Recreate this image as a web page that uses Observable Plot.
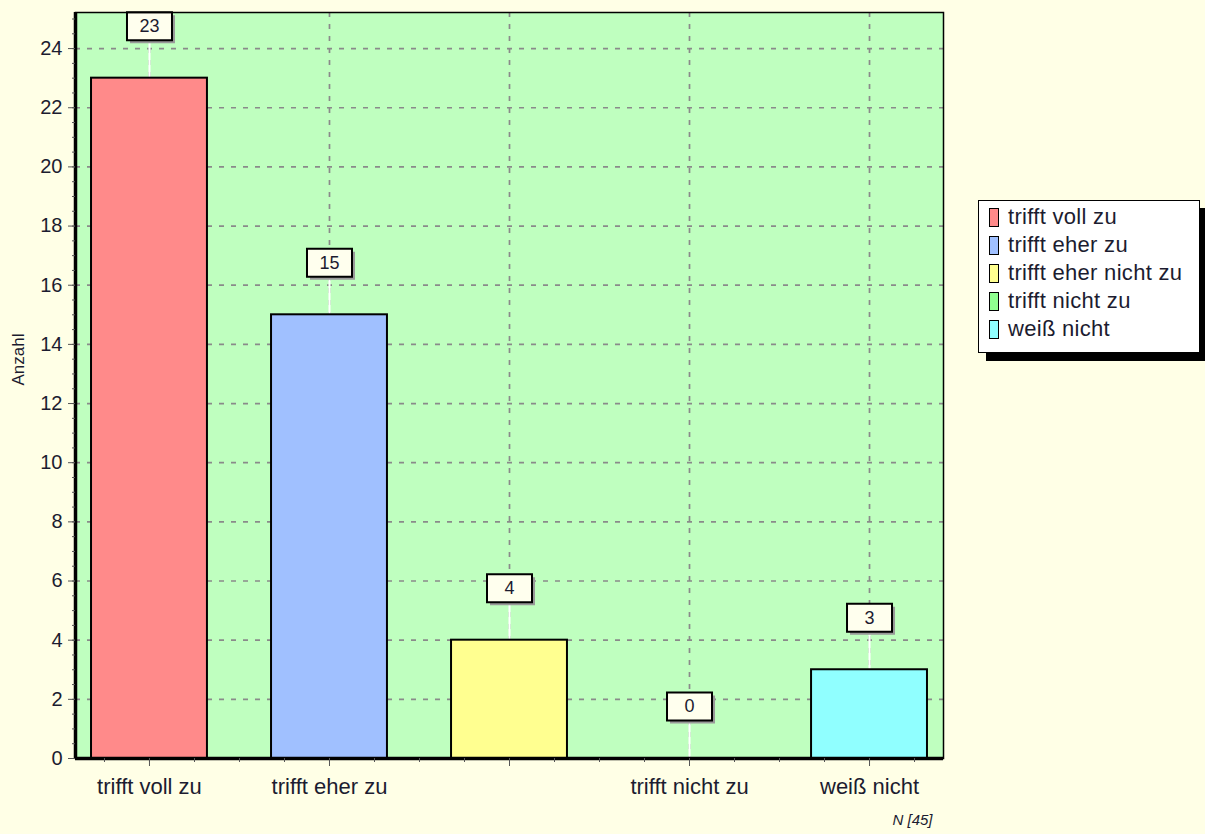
<!DOCTYPE html>
<html>
<head>
<meta charset="utf-8">
<script src="https://cdn.jsdelivr.net/npm/d3@7"></script>
<script src="https://cdn.jsdelivr.net/npm/@observablehq/plot@0.6"></script>
<style>
  body { margin: 0; background: #FFFFE6; font-family: Arial, "Liberation Sans", sans-serif; }
  #wrap { position: relative; width: 1205px; height: 834px; overflow: hidden; }
  #legend {
    position: absolute; left: 978px; top: 200px; width: 222px; height: 153px;
    background: #ffffff; border: 1.5px solid #000; box-shadow: 8px 8px 0 #000;
    box-sizing: border-box; padding-top: 2px;
  }
  .item { display: flex; align-items: center; height: 28px; }
  .sw { width: 8px; height: 17px; border: 1.5px solid #000; margin-left: 10px; margin-right: 9px; flex: none; }
  .lab { font-size: 22px; letter-spacing: 0.3px; color: #1c1c30; white-space: nowrap; }
</style>
</head>
<body>
<div id="wrap"><div id="chart"></div><div id="legend"></div></div>
<script>
// ---- data ----
const categories = ["trifft voll zu", "trifft eher zu", "trifft eher nicht zu", "trifft nicht zu", "weiß nicht"];
const values = [23, 15, 4, 0, 3];
const colors = ["#FF8A8A", "#A0C0FF", "#FFFF90", "#90FF90", "#90FFFF"];
const xTickLabels = ["trifft voll zu", "trifft eher zu", "", "trifft nicht zu", "weiß nicht"];
const yTicks = [0, 2, 4, 6, 8, 10, 12, 14, 16, 18, 20, 22, 24];
const yLabel = "Anzahl";
const nLabel = `N [${d3.sum(values)}]`;

// ---- layout / style ----
const xDomain = [-0.411, 4.411];
const yDomain = [0, 25.22];
const barHalf = 0.322;
const rows = categories.map((c, i) => ({i, c, v: values[i], color: colors[i]}));
const boxSymbol = { draw(ctx) { ctx.rect(-22.5, -14, 45, 28); } };
const gridStyle = {stroke: "#8a8a8a", strokeWidth: 1.7, strokeDasharray: "5,7"};
const font = "Arial, 'Liberation Sans', sans-serif";

const chart = Plot.plot({
  width: 1205,
  height: 834,
  marginLeft: 75,
  marginRight: 262,
  marginTop: 12,
  marginBottom: 76,
  style: {background: "transparent", fontFamily: font, color: "#1c1c30"},
  x: {type: "linear", domain: xDomain},
  y: {domain: yDomain},
  marks: [
    Plot.frame({fill: "#BFFFBF", stroke: "none"}),
    Plot.ruleY(yTicks.filter(d => d > 0), {...gridStyle}),
    Plot.ruleX(d3.range(categories.length), {...gridStyle}),
    // leader lines
    Plot.ruleX(rows, {x: "i", y1: "v", y2: "v", insetBottom: 38, stroke: "#ffffff", strokeWidth: 2}),
    // bars
    Plot.rectY(rows, {x1: d => d.i - barHalf, x2: d => d.i + barHalf, y1: 0, y2: "v", fill: "color", stroke: "#000", strokeWidth: 2}),
    // label boxes
    Plot.dot(rows, {x: "i", y: "v", dx: 3, dy: -49, symbol: boxSymbol, fill: "#999999", stroke: "none"}),
    Plot.dot(rows, {x: "i", y: "v", dy: -52, symbol: boxSymbol, fill: "#FFFFEE", stroke: "#000", strokeWidth: 2}),
    Plot.text(rows, {x: "i", y: "v", dy: -52, text: d => String(d.v), fontSize: 18, fill: "#1c1c30"}),
    // frame and axis lines
    Plot.frame({stroke: "#000", strokeWidth: 1.5}),
    Plot.ruleX([xDomain[0]], {stroke: "#000", strokeWidth: 3.5}),
    Plot.ruleY([0], {stroke: "#000", strokeWidth: 3.5}),
    // y axis
    Plot.axisY({ticks: yTicks, tickSize: 7, tickPadding: 6, fontSize: 20, label: null, stroke: "#555"}),
    Plot.axisY({ticks: d3.range(0, 25.1, 0.5), tickSize: 3, tickFormat: () => "", label: null, stroke: "#555"}),
    // x axis
    Plot.axisX({ticks: d3.range(categories.length), tickSize: 8, tickPadding: 12, fontSize: 22,
      tickFormat: i => xTickLabels[i], label: null, stroke: "#555"}),
    Plot.axisX({ticks: d3.range(-0.25, 4.3, 0.25), tickSize: 4, tickFormat: () => "", label: null, stroke: "#555"}),
    Plot.text([yLabel], {frameAnchor: "left", rotate: -90, dx: -57, fontSize: 17, fill: "#1c1c30"}),
    Plot.text([nLabel], {frameAnchor: "bottom-right", dx: -11, dy: 66, textAnchor: "end", fontSize: 15, fontStyle: "italic", fill: "#1c1c30"})
  ]
});
document.getElementById("chart").appendChild(chart);

const legend = document.getElementById("legend");
categories.forEach((c, i) => {
  const item = document.createElement("div");
  item.className = "item";
  item.innerHTML = `<span class="sw" style="background:${colors[i]}"></span><span class="lab">${c}</span>`;
  legend.appendChild(item);
});
</script>
</body>
</html>
